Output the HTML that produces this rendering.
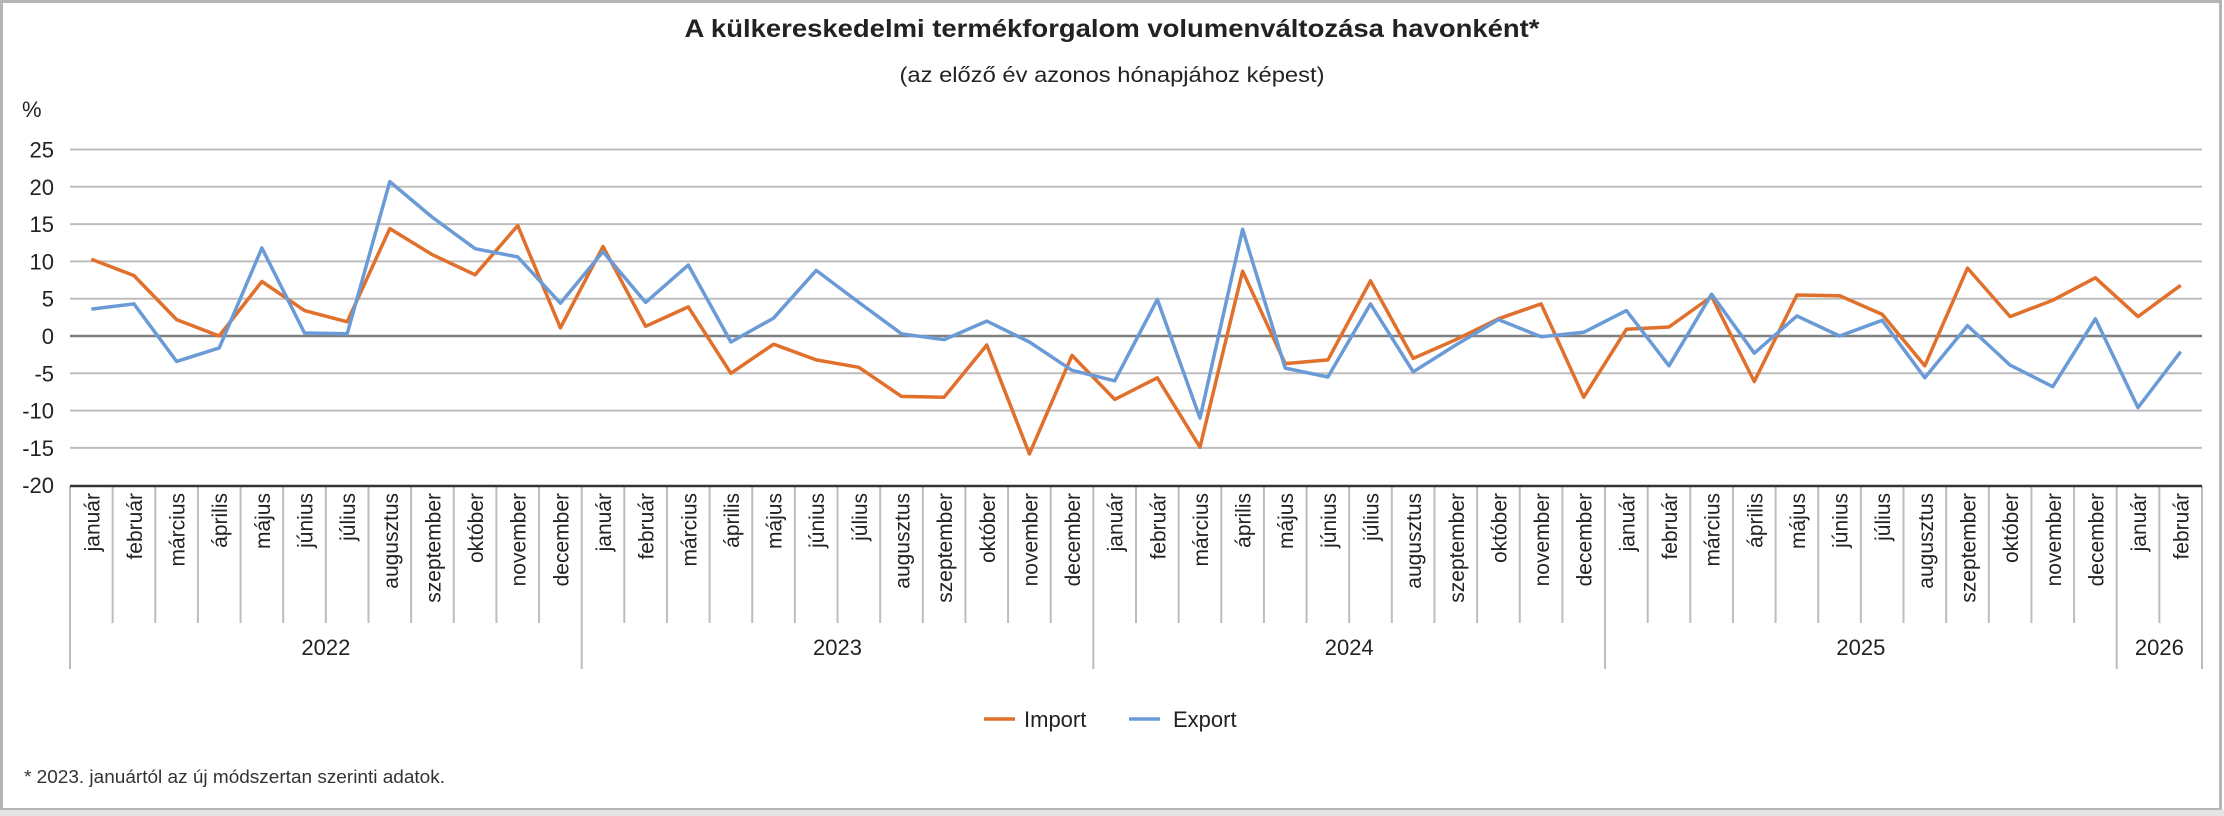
<!DOCTYPE html>
<html><head><meta charset="utf-8"><style>
html,body{margin:0;padding:0;background:#fff;}
svg{display:block;font-family:"Liberation Sans",Arial,sans-serif;}
</style></head><body>
<svg id="c" width="2224" height="816" xmlns="http://www.w3.org/2000/svg">
<rect x="1.5" y="1.5" width="2219" height="808" fill="#fff" stroke="#b5b5b5" stroke-width="3"/>
<rect x="0" y="810" width="2224" height="6" fill="#e4e4e4"/>
<text x="1112" y="37" text-anchor="middle" font-size="25" font-weight="bold" fill="#222" textLength="855" lengthAdjust="spacingAndGlyphs">A külkereskedelmi termékforgalom volumenváltozása havonként*</text>
<text x="1112" y="82" text-anchor="middle" font-size="21" fill="#222" textLength="425" lengthAdjust="spacingAndGlyphs">(az előző év azonos hónapjához képest)</text>
<text x="22" y="117" font-size="22" fill="#222">%</text>
<g id="g"></g>
<text x="24" y="783" font-size="18" fill="#333" textLength="421" lengthAdjust="spacingAndGlyphs">* 2023. januártól az új módszertan szerinti adatok.</text>
</svg>
<script>
var imp=[10.3,8.1,2.2,0,7.3,3.4,1.9,14.4,10.9,8.2,14.8,1.1,
12.0,1.3,3.9,-5.0,-1.1,-3.2,-4.2,-8.1,-8.2,-1.2,-15.8,-2.6,
-8.5,-5.6,-14.9,8.7,-3.7,-3.2,7.4,-3.0,-0.5,2.3,4.3,-8.2,
0.9,1.2,5.3,-6.1,5.5,5.4,2.9,-4.0,9.1,2.6,4.8,7.8,2.6,6.8];
var exp=[3.6,4.3,-3.4,-1.6,11.8,0.4,0.3,20.7,15.9,11.7,10.6,4.4,
11.3,4.5,9.5,-0.8,2.4,8.8,4.5,0.3,-0.5,2.0,-0.8,-4.6,
-6.0,4.9,-11.0,14.3,-4.3,-5.5,4.3,-4.8,-1.2,2.2,-0.1,0.5,
3.4,-4.0,5.6,-2.3,2.7,0.0,2.1,-5.6,1.4,-3.9,-6.8,2.3,-9.6,-2.1];
var m=["január","február","március","április","május","június","július","augusztus","szeptember","október","november","december"];
var L=70,R=2202,N=50,w=(R-L)/N,Z=336,k=7.46;
function Y(v){return Z-v*k;}
var s='';
for(var v=25;v>=-15;v-=5){ if(v==0)continue;
 s+='<line x1="'+L+'" x2="'+R+'" y1="'+Y(v)+'" y2="'+Y(v)+'" stroke="#bdbdbd" stroke-width="2"/>';}
for(var v=25;v>=-20;v-=5){ s+='<text x="54" y="'+(Y(v)+8)+'" text-anchor="end" font-size="22" fill="#222">'+v+'</text>';}
s+='<line x1="'+L+'" x2="'+R+'" y1="'+Z+'" y2="'+Z+'" stroke="#808080" stroke-width="2.5"/>';
for(var i=0;i<=N;i++){var x=L+i*w;var yr=(i%12==0)||i==N;
 s+='<line x1="'+x+'" x2="'+x+'" y1="486" y2="'+(yr?669:623)+'" stroke="#bdbdbd" stroke-width="2"/>';}
for(var i=0;i<N;i++){var cx=L+(i+0.5)*w;
 s+='<text transform="translate('+(cx+8)+',493) rotate(-90)" text-anchor="end" font-size="21" fill="#222">'+m[i%12]+'</text>';}
var yrs=[[0,12,"2022"],[12,24,"2023"],[24,36,"2024"],[36,48,"2025"],[48,50,"2026"]];
yrs.forEach(function(a){var cx=L+(a[0]+a[1])/2*w;s+='<text x="'+cx+'" y="655" text-anchor="middle" font-size="22" fill="#222">'+a[2]+'</text>';});
s+='<line x1="'+L+'" x2="'+R+'" y1="486" y2="486" stroke="#333" stroke-width="2.5"/>';
function pl(d,c){var p=d.map(function(v,i){return (L+(i+0.5)*w).toFixed(1)+','+Y(v).toFixed(1);}).join(' ');
 return '<polyline points="'+p+'" fill="none" stroke="'+c+'" stroke-width="3.5" stroke-linejoin="round"/>';}
s+=pl(imp,'#e0702b');s+=pl(exp,'#6b9bd6');
s+='<line x1="984" x2="1015" y1="719" y2="719" stroke="#e0702b" stroke-width="3.5"/><text x="1024" y="727" font-size="22" fill="#222">Import</text>';
s+='<line x1="1129" x2="1160" y1="719" y2="719" stroke="#6b9bd6" stroke-width="3.5"/><text x="1173" y="727" font-size="22" fill="#222">Export</text>';
document.getElementById('g').innerHTML=s;
</script>
</body></html>
